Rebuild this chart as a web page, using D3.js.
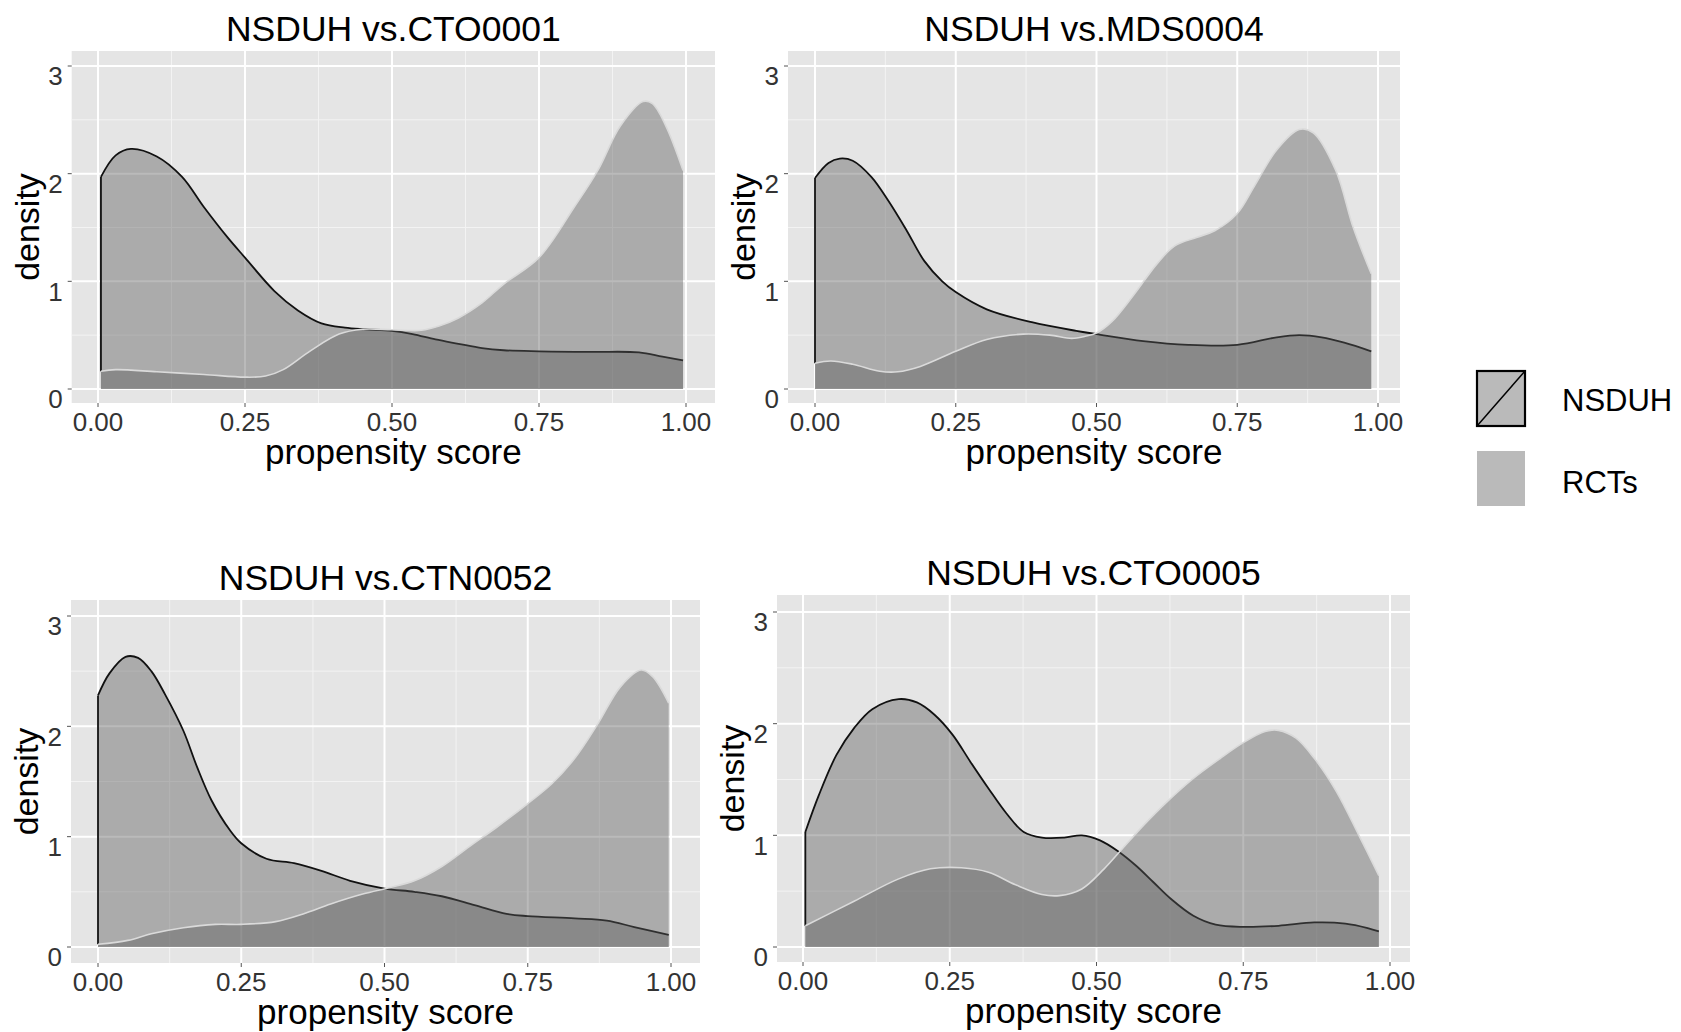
<!DOCTYPE html>
<html><head><meta charset="utf-8">
<script src="https://cdn.jsdelivr.net/npm/d3@7"></script>
<style>
body{margin:0;background:#fff}
text{font-family:"Liberation Sans",Arial,Helvetica,sans-serif}
</style>
</head><body>
<svg id="chart" width="1681" height="1032"></svg>
<script>
// ---------- data ----------
const groups = ["NSDUH", "RCTs"];
const panelTitles = ["NSDUH vs.CTO0001", "NSDUH vs.MDS0004", "NSDUH vs.CTN0052", "NSDUH vs.CTO0005"];
const xTicks = [0, 0.25, 0.5, 0.75, 1];
const xTickLabels = ["0.00", "0.25", "0.50", "0.75", "1.00"];
const xMinor = [0.125, 0.375, 0.625, 0.875];
const yTicks = [0, 1, 2, 3];
const yTickLabels = ["0", "1", "2", "3"];
const yMinor = [0.5, 1.5, 2.5];
const xTitle = "propensity score";
const yTitle = "density";

// CTO0001
const cto0001NsduhX = [0.005,0.03,0.056,0.10,0.143,0.18,0.22,0.25,0.30,0.34,0.38,0.42,0.456,0.50,0.535,0.574,0.613,0.653,0.69,0.75,0.81,0.85,0.92,0.96,0.995];
const cto0001NsduhY = [1.97,2.17,2.23,2.16,1.97,1.69,1.41,1.22,0.91,0.73,0.61,0.57,0.555,0.54,0.51,0.46,0.42,0.38,0.36,0.35,0.345,0.345,0.34,0.30,0.265];
const cto0001RctX = [0.005,0.03,0.10,0.18,0.25,0.285,0.315,0.36,0.41,0.45,0.50,0.55,0.58,0.613,0.653,0.69,0.75,0.81,0.85,0.888,0.927,0.943,0.966,0.995];
const cto0001RctY = [0.165,0.18,0.16,0.135,0.11,0.12,0.18,0.35,0.51,0.555,0.55,0.545,0.585,0.66,0.80,0.975,1.22,1.69,2.03,2.44,2.67,2.65,2.44,2.03];

// MDS0004
const mds0004NsduhX = [0,0.024,0.044,0.067,0.10,0.13,0.163,0.194,0.226,0.25,0.305,0.385,0.464,0.50,0.583,0.663,0.75,0.82,0.86,0.90,0.94,0.988];
const mds0004NsduhY = [1.96,2.10,2.14,2.12,1.97,1.75,1.47,1.19,1.0,0.90,0.74,0.62,0.54,0.51,0.445,0.41,0.41,0.48,0.50,0.48,0.43,0.35];
const mds0004RctX = [0,0.028,0.067,0.115,0.147,0.187,0.25,0.305,0.37,0.417,0.456,0.48,0.50,0.528,0.567,0.607,0.639,0.679,0.71,0.75,0.78,0.82,0.86,0.885,0.925,0.956,0.988];
const mds0004RctY = [0.24,0.26,0.23,0.165,0.16,0.21,0.35,0.46,0.51,0.50,0.47,0.49,0.52,0.63,0.88,1.16,1.33,1.41,1.47,1.63,1.88,2.22,2.41,2.38,2.03,1.50,1.07];

// CTN0052
const ctn0052NsduhX = [0,0.02,0.048,0.07,0.093,0.117,0.149,0.173,0.198,0.23,0.25,0.294,0.342,0.39,0.44,0.50,0.552,0.60,0.657,0.713,0.75,0.832,0.888,0.936,0.996];
const ctn0052NsduhY = [2.28,2.48,2.63,2.62,2.50,2.29,1.96,1.63,1.33,1.06,0.94,0.80,0.76,0.69,0.60,0.53,0.50,0.46,0.38,0.30,0.28,0.26,0.24,0.18,0.11];
const ctn0052RctX = [0,0.052,0.093,0.149,0.205,0.25,0.31,0.358,0.406,0.462,0.51,0.552,0.60,0.648,0.697,0.75,0.792,0.832,0.872,0.912,0.948,0.968,0.996];
const ctn0052RctY = [0.025,0.06,0.12,0.175,0.205,0.205,0.23,0.30,0.39,0.48,0.54,0.60,0.73,0.91,1.09,1.30,1.48,1.71,2.02,2.36,2.51,2.45,2.21];

// CTO0005
const cto0005NsduhX = [0.004,0.027,0.057,0.087,0.118,0.163,0.194,0.224,0.255,0.285,0.316,0.346,0.376,0.407,0.445,0.475,0.506,0.536,0.567,0.597,0.627,0.665,0.703,0.75,0.81,0.871,0.924,0.962,0.981];
const cto0005NsduhY = [1.03,1.36,1.72,1.96,2.13,2.22,2.19,2.08,1.90,1.66,1.42,1.20,1.03,0.98,0.98,1.0,0.955,0.86,0.73,0.58,0.43,0.28,0.20,0.18,0.19,0.22,0.21,0.17,0.14];
const cto0005RctX = [0.004,0.087,0.163,0.217,0.27,0.316,0.361,0.407,0.437,0.475,0.513,0.544,0.582,0.62,0.665,0.711,0.75,0.787,0.81,0.84,0.871,0.909,0.947,0.981];
const cto0005RctY = [0.19,0.41,0.61,0.70,0.71,0.67,0.56,0.47,0.46,0.52,0.70,0.88,1.10,1.30,1.51,1.69,1.83,1.93,1.94,1.87,1.69,1.39,1.0,0.64];

// ---------- layout ----------
const panels = [
  {title: panelTitles[0], nx: cto0001NsduhX, ny: cto0001NsduhY, rx: cto0001RctX, ry: cto0001RctY,
   left: 71.7, top: 51, right: 715, bottom: 403, px0: 98, px1: 686, py0: 389, py3: 66},
  {title: panelTitles[1], nx: mds0004NsduhX, ny: mds0004NsduhY, rx: mds0004RctX, ry: mds0004RctY,
   left: 788, top: 51, right: 1400, bottom: 403, px0: 815, px1: 1378, py0: 389, py3: 66},
  {title: panelTitles[2], nx: ctn0052NsduhX, ny: ctn0052NsduhY, rx: ctn0052RctX, ry: ctn0052RctY,
   left: 71, top: 600, right: 700, bottom: 963, px0: 98, px1: 671, py0: 947, py3: 616},
  {title: panelTitles[3], nx: cto0005NsduhX, ny: cto0005NsduhY, rx: cto0005RctX, ry: cto0005RctY,
   left: 777, top: 595, right: 1410, bottom: 962, px0: 803, px1: 1390, py0: 947, py3: 612}
];

const FILL = "#5a5a5a", FILL_OP = 0.42;
const TICK_FS = 26, TITLE_FS = 35.5, AXIS_FS = 35, LEG_FS = 31;
const svg = d3.select("#chart");
svg.append("rect").attr("width", 1681).attr("height", 1032).attr("fill", "#fff");

panels.forEach(p => {
  const x = d3.scaleLinear().domain([0, 1]).range([p.px0, p.px1]);
  const y = d3.scaleLinear().domain([0, 3]).range([p.py0, p.py3]);
  const g = svg.append("g");

  g.append("rect").attr("x", p.left).attr("y", p.top)
    .attr("width", p.right - p.left).attr("height", p.bottom - p.top).attr("fill", "#e5e5e5");

  // minor grid
  g.selectAll(".mx").data(xMinor).enter().append("line")
    .attr("x1", d => x(d)).attr("x2", d => x(d)).attr("y1", p.top).attr("y2", p.bottom)
    .attr("stroke", "#f3f3f3").attr("stroke-width", 1);
  g.selectAll(".my").data(yMinor).enter().append("line")
    .attr("y1", d => y(d)).attr("y2", d => y(d)).attr("x1", p.left).attr("x2", p.right)
    .attr("stroke", "#f3f3f3").attr("stroke-width", 1);
  // major grid
  g.selectAll(".gx").data(xTicks).enter().append("line")
    .attr("x1", d => x(d)).attr("x2", d => x(d)).attr("y1", p.top).attr("y2", p.bottom)
    .attr("stroke", "#fff").attr("stroke-width", 2);
  g.selectAll(".gy").data(yTicks).enter().append("line")
    .attr("y1", d => y(d)).attr("y2", d => y(d)).attr("x1", p.left).attr("x2", p.right)
    .attr("stroke", "#fff").attr("stroke-width", 2);

  const curve = d3.curveCatmullRom.alpha(0.5);
  const nData = p.nx.map((v, i) => [v, p.ny[i]]);
  const rData = p.rx.map((v, i) => [v, p.ry[i]]);
  const area = d3.area().x(d => x(d[0])).y0(y(0)).y1(d => y(d[1])).curve(curve);
  const line = d3.line().x(d => x(d[0])).y(d => y(d[1])).curve(curve);

  // NSDUH
  g.append("path").attr("d", area(nData)).attr("fill", FILL).attr("fill-opacity", FILL_OP);
  g.append("line").attr("x1", x(nData[0][0])).attr("x2", x(nData[0][0]))
    .attr("y1", y(rData[0][1])).attr("y2", y(nData[0][1]))
    .attr("stroke", "#111").attr("stroke-width", 1.8);
  g.append("path").attr("d", line(nData)).attr("fill", "none")
    .attr("stroke", "#111").attr("stroke-width", 1.8);
  // RCTs
  g.append("path").attr("d", area(rData)).attr("fill", FILL).attr("fill-opacity", FILL_OP);
  g.append("path").attr("d", line(rData)).attr("fill", "none")
    .attr("stroke", "#dadada").attr("stroke-width", 1.6);

  // ticks
  g.selectAll(".tx").data(xTicks).enter().append("line")
    .attr("x1", d => x(d)).attr("x2", d => x(d)).attr("y1", p.bottom).attr("y2", p.bottom + 4)
    .attr("stroke", "#555").attr("stroke-width", 1);
  g.selectAll(".ty").data(yTicks).enter().append("line")
    .attr("y1", d => y(d)).attr("y2", d => y(d)).attr("x1", p.left - 4).attr("x2", p.left)
    .attr("stroke", "#555").attr("stroke-width", 1);

  // tick labels
  g.selectAll(".lx").data(xTicks).enter().append("text")
    .attr("x", d => x(d)).attr("y", p.bottom + 19 + 0.358 * TICK_FS)
    .attr("text-anchor", "middle").attr("font-size", TICK_FS).attr("fill", "#333")
    .text((d, i) => xTickLabels[i]);
  g.selectAll(".ly").data(yTicks).enter().append("text")
    .attr("x", p.left - 9).attr("y", d => y(d) + 10 + 0.358 * TICK_FS)
    .attr("text-anchor", "end").attr("font-size", TICK_FS).attr("fill", "#333")
    .text((d, i) => yTickLabels[i]);

  // titles
  const cx = (p.left + p.right) / 2;
  g.append("text").attr("x", cx).attr("y", p.top - 10)
    .attr("text-anchor", "middle").attr("font-size", TITLE_FS).attr("fill", "#000").text(p.title);
  g.append("text").attr("x", cx).attr("y", p.bottom + 52 + 0.255 * AXIS_FS)
    .attr("text-anchor", "middle").attr("font-size", AXIS_FS).attr("fill", "#000").text(xTitle);
  g.append("text")
    .attr("transform", `translate(${p.left - 42},${(p.top + p.bottom) / 2}) rotate(-90)`)
    .attr("y", 0.26 * 34).attr("text-anchor", "middle").attr("font-size", 34).attr("fill", "#000")
    .text(yTitle);
});

// ---------- legend ----------
const lg = svg.append("g");
const keyY = [371, 451];
const labelY = [400, 482];
groups.forEach((gname, i) => {
  lg.append("rect").attr("x", 1477).attr("y", keyY[i]).attr("width", 48).attr("height", 55)
    .attr("fill", FILL).attr("fill-opacity", FILL_OP);
  lg.append("text").attr("x", 1562).attr("y", labelY[i] + 0.358 * LEG_FS)
    .attr("font-size", LEG_FS).attr("fill", "#000").text(gname);
});
lg.append("rect").attr("x", 1477).attr("y", keyY[0]).attr("width", 48).attr("height", 55)
  .attr("fill", "none").attr("stroke", "#000").attr("stroke-width", 2.2);
lg.append("line").attr("x1", 1477).attr("y1", keyY[0] + 55).attr("x2", 1525).attr("y2", keyY[0])
  .attr("stroke", "#000").attr("stroke-width", 1.5);
</script>
</body></html>
